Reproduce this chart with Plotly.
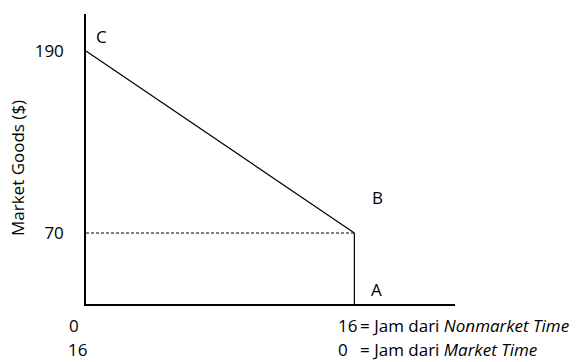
import plotly.graph_objects as go

# budget line points (hours of nonmarket time, market goods $)
hours = [0, 16]
goods = [190, 70]
point_labels = ["C", "B", "A"]
y_ticks = [70, 190]
x_tick_top = ["0", "16"]          # nonmarket time hours
x_tick_bottom = ["16", "0"]       # market time hours
y_floor = 23.2                    # schematic axis floor (chart not to scale)

W, H = 576, 362
L, T = 86, 14
R, B = W - 455, H - 304
pw, ph = W - L - R, H - T - B

def px(x):  # pixel -> paper x
    return (x - L) / pw

def py(y):  # pixel -> paper y
    return (H - B - y) / ph

FONT = "Open Sans"
FS = 17
fig = go.Figure()

# budget line C-B
fig.add_trace(go.Scatter(x=hours, y=goods, mode="lines",
                         line=dict(color="black", width=1.2), hoverinfo="skip"))
# dashed guide at B level
fig.add_trace(go.Scatter(x=[hours[0], hours[1]], y=[goods[1], goods[1]], mode="lines",
                         line=dict(color="black", width=1, dash="3px,2px"), hoverinfo="skip"))
# vertical segment B-A
fig.add_trace(go.Scatter(x=[hours[1], hours[1]], y=[goods[1], y_floor], mode="lines",
                         line=dict(color="black", width=1.2), hoverinfo="skip"))

fig.update_layout(
    width=W, height=H, showlegend=False,
    margin=dict(l=L, r=R, t=T, b=B),
    paper_bgcolor="white", plot_bgcolor="white",
    font=dict(family=FONT, size=FS, color="black"),
    xaxis=dict(range=[0, 22], showgrid=False, zeroline=False, showticklabels=False,
               showline=True, linecolor="black", linewidth=1.5, ticks=""),
    yaxis=dict(range=[y_floor, 214.4], showgrid=False, zeroline=False,
               tickvals=y_ticks, ticktext=[str(v) for v in y_ticks], ticks="",
               ticklabelstandoff=17, tickfont=dict(size=FS),
               showline=True, linecolor="black", linewidth=1.5),
)

def note(text, x, y, xanchor="center", **kw):
    return dict(x=px(x), y=py(y), xref="paper", yref="paper", text=text,
                xanchor=xanchor, yanchor="middle", showarrow=False, **kw)

ann = [note("Market Goods ($)", 17, 168, textangle=-90)]
# point letters
for lab, (x, y) in zip(point_labels, [(101, 36), (377, 197), (376, 289)]):
    ann.append(note(lab, x, y))
# x tick labels under the origin
ann.append(note(x_tick_top[0], 74, 325))
ann.append(note(x_tick_bottom[0], 77, 349))
# notes on the right
ann.append(note(x_tick_top[1], 336, 325, "left"))
ann.append(note(x_tick_bottom[1], 336, 349, "left"))
ann.append(note("= Jam dari <i>Nonmarket Time</i>", 358, 325, "left"))
ann.append(note("= Jam dari <i>Market Time</i>", 358, 349, "left"))
fig.update_layout(annotations=ann)

# drop the page's default body margin so the figure sits at the window corner
fig.write_html("out.html", config={"displayModeBar": False},
               post_script="document.body.style.margin='0';")
